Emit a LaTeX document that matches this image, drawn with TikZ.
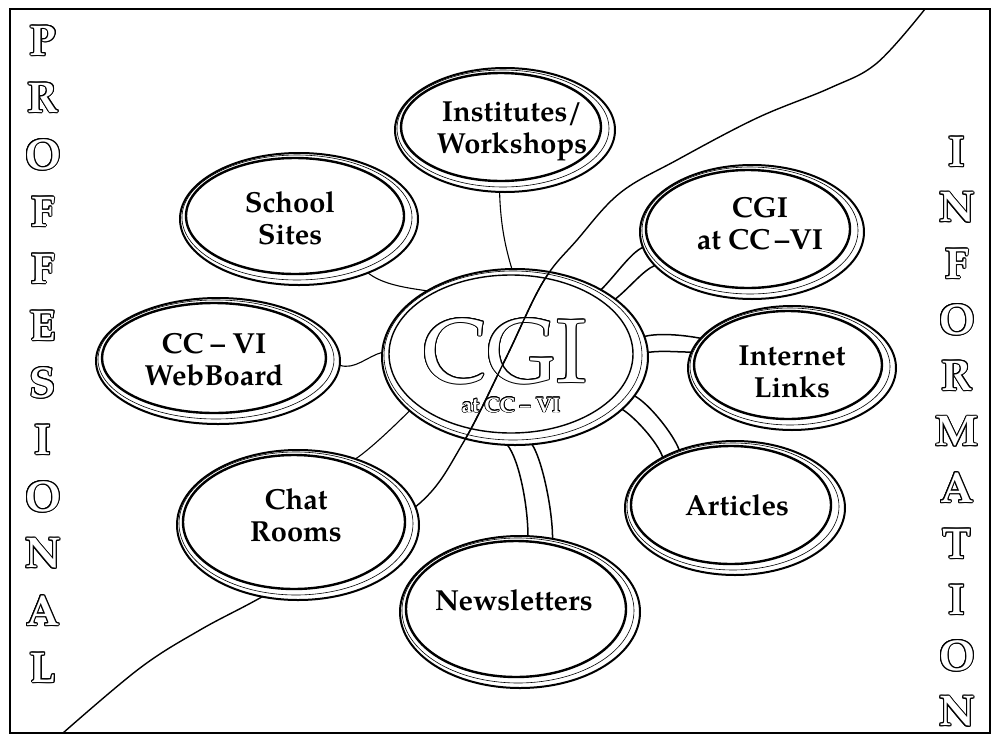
\documentclass[tikz,border=0pt]{standalone}
\usepackage{fontspec}
\setmainfont{TeX Gyre Pagella}
\usepackage[copies]{contour}
\contourlength{1pt}
\usetikzlibrary{shapes.geometric,calc}
\pgfdeclarelayer{background}
\pgfsetlayers{background,main}

\newcommand\olet[1]{\contour{black}{\textcolor{white}{#1}}}
\newcommand\mybub[5]{%
  \node[bub, minimum width=2*#4, minimum height=2*#5] (#1) at (#2,#3) {};
  \draw[ringthin] ($(#1.center)+(-2,-1.5)$) ellipse [x radius=#4-4, y radius=#5-3.5];
  \draw[ringthick] ($(#1.center)+(-4,-3)$) ellipse [x radius=#4-10, y radius=#5-8];
}
\newcommand\scurve{plot[smooth, tension=0.6] coordinates {(63,733) (140,668) (200,630) (260,598) (340,552) (420,503) (463,443) (505,360) (543,282) (577,240) (620,193) (677,160) (757,118) (830,88) (877,63) (925,9)}}

\begin{document}
\begin{tikzpicture}[x=1pt,y=-1pt,
  bub/.style={ellipse, draw, line width=2pt, fill=white, inner sep=0pt, outer sep=0pt},
  ringthin/.style={line width=0.6pt},
  ringthick/.style={line width=2.4pt},
  lbl/.style={font=\fontsize{29}{32}\selectfont\bfseries, align=center, inner sep=0pt},
  conn/.style={line width=1.1pt},
  tube/.style={line width=1.5pt},
  sideletter/.style={font=\fontsize{43}{43}\selectfont\bfseries, inner sep=0pt},
  frame/.style={line width=1.3pt},
  divider/.style={line width=1.4pt}
]
\useasboundingbox (0,0) rectangle (994,737);

% outer frame
\draw[frame] (10,9) rectangle (990,733);

% bubbles
\mybub{I}{505}{130}{110}{62}
\mybub{S}{299}{219}{119}{66}
\mybub{K}{752}{232}{112}{67}
\mybub{L}{792}{368}{104}{62}
\mybub{A}{735}{508}{110}{67}
\mybub{N}{520}{612}{120}{76}
\mybub{R}{298}{525}{121}{75}
\mybub{W}{218}{361}{122}{63}

% center bubble (unfilled)
\node[bub, fill=none, minimum width=266, minimum height=176] (C) at (515,357) {};
\draw[ringthin] ($(C.center)+(-2,-1.5)$) ellipse [x radius=129, y radius=84.5];
\draw[line width=1.4pt] ($(C.center)+(-4,-3)$) ellipse [x radius=122, y radius=79];

% labels
\node[lbl] (I-t) at (512,131) {Institutes/\\Workshops};
\node[lbl] (S-t) at (290,218) {School\\Sites};
\node[lbl] (K-t) at (760,224) {CGI\\at CC\,–VI};
\node[lbl] (L-t) at (792,372) {Internet\\Links};
\node[lbl] (A-t) at (737,505) {Articles};
\node[lbl] (N-t) at (514,600) {Newsletters};
\node[lbl] (R-t) at (296,515) {Chat\\Rooms};
\node[lbl] (W-t) at (214,360) {CC – VI\\WebBoard};

\node[font=\fontsize{90}{90}\selectfont, anchor=base, inner sep=0pt] (C-t) at (505,382) {\olet{CGI}};
\node[font=\fontsize{21}{21}\selectfont\bfseries, anchor=base, inner sep=0pt] (C-s) at (511,412) {\contourlength{0.7pt}\olet{at CC – VI}};

% single connectors
\draw[conn] (I.-95) .. controls +(1,35) and +(-6,-20) .. (C.92);
\draw[conn] (S.-38) .. controls +(15,12) and +(-20,-3) .. (C.143);
\draw[conn] (W.-2) .. controls +(15,5) and +(-15,4) .. (C.178);
\draw[conn] (R.49) .. controls +(15,-10) and +(-15,15) .. (C.-153);

% tube connectors
\draw[tube] (C.38) .. controls +(15,-15) and +(-12,5) .. (K.-172);
\draw[tube] (C.30) .. controls +(15,-12) and +(-12,5) .. (K.-161);
\draw[tube] (C.9) .. controls +(15,-4) and +(-15,-3) .. (L.162);
\draw[tube] (C.2) .. controls +(15,-2) and +(-15,0) .. (L.171);
\draw[tube] (C.-26) .. controls +(13,8) and +(-5,-15) .. (A.145);
\draw[tube] (C.-18) .. controls +(15,8) and +(-5,-15) .. (A.134);
\draw[tube] (C.-95) .. controls +(12,15) and +(0,-30) .. (N.84);
\draw[tube] (C.-79) .. controls +(10,15) and +(0,-30) .. (N.66);

% dividing curve behind the bubbles
\begin{pgfonlayer}{background}
\draw[divider] \scurve;
\end{pgfonlayer}
% the same curve seen across the centre
\begin{scope}
\clip (C.center) ellipse [x radius=133, y radius=88];
\draw[divider] \scurve;
\end{scope}

% side words
\foreach \l [count=\i] in {P,R,O,F,F,E,S,I,O,N,A,L}
  {\node[sideletter] (pl\i) at (43,{41+57*(\i-1)}) {\olet{\l}};}
\foreach \l [count=\i] in {I,N,F,O,R,M,A,T,I,O,N}
  {\node[sideletter] (il\i) at (957,{152+56*(\i-1)}) {\olet{\l}};}
\end{tikzpicture}
\end{document}
